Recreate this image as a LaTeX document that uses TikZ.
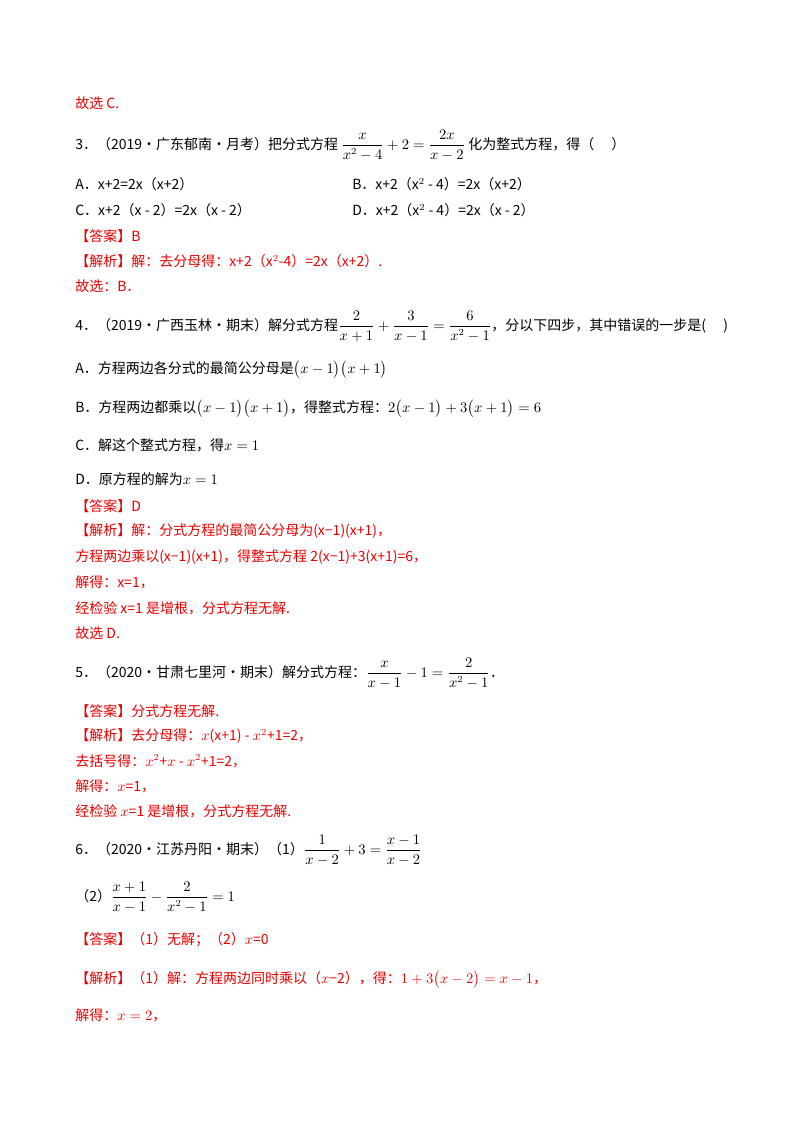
\documentclass[tikz,border=0pt]{standalone}
\usepackage{amsmath}
\usepackage{fontspec}
\setmainfont{Noto Sans CJK SC}
\definecolor{ans}{RGB}{230,0,0}
\begin{document}
\begin{tikzpicture}[x=0.75pt,y=-0.75pt,
  t/.style={anchor=west,inner sep=0pt,font=\fontsize{10.5}{12}\selectfont},
  r/.style={t,text=ans}]
\useasboundingbox (0,0) rectangle (800,1132);
\node[r] (l1) at (75,103) {故选 C.};
\node[t] (l2) at (75,145) {3．（2019·广东郁南·月考）把分式方程 $\displaystyle\frac{x}{x^2-4}+2=\frac{2x}{x-2}$ 化为整式方程，得（\quad\ ）};
\node[t] (l3a) at (75,184) {A．x+2=2x（x+2）};
\node[t] (l3b) at (352,184) {B．x+2（x$^2$ - 4）=2x（x+2）};
\node[t] (l4a) at (75,210) {C．x+2（x - 2）=2x（x - 2）};
\node[t] (l4b) at (352,210) {D．x+2（x$^2$ - 4）=2x（x - 2）};
\node[r] (l5) at (75,236) {【答案】B};
\node[r] (l6) at (75,261) {【解析】解：去分母得：x+2（x$^2$-4）=2x（x+2）.};
\node[r] (l7) at (75,286) {故选：B．};
\node[t] (l8) at (75,326) {4．（2019·广西玉林·期末）解分式方程$\displaystyle\frac{2}{x+1}+\frac{3}{x-1}=\frac{6}{x^2-1}$，分以下四步，其中错误的一步是(\quad\ )};
\node[t] (l9) at (75,370) {A．方程两边各分式的最简公分母是$\big(x-1\big)\big(x+1\big)$};
\node[t] (l10) at (75,409) {B．方程两边都乘以$\big(x-1\big)\big(x+1\big)$，得整式方程：$2\big(x-1\big)+3\big(x+1\big)=6$};
\node[t] (l11) at (75,445) {C．解这个整式方程，得$x=1$};
\node[t] (l12) at (75,479) {D．原方程的解为$x=1$};
\node[r] (l13) at (75,506) {【答案】D};
\node[r] (l14) at (75,531) {【解析】解：分式方程的最简公分母为(x−1)(x+1)，};
\node[r] (l15) at (75,557) {方程两边乘以(x−1)(x+1)，得整式方程 2(x−1)+3(x+1)=6，};
\node[r] (l16) at (75,582) {解得：x=1，};
\node[r] (l17) at (75,608) {经检验 x=1 是增根，分式方程无解.};
\node[r] (l18) at (75,633) {故选 D.};
\node[t] (l19) at (75,673) {5．（2020·甘肃七里河·期末）解分式方程：$\displaystyle\frac{x}{x-1}-1=\frac{2}{x^2-1}$．};
\node[r] (l20) at (75,711) {【答案】分式方程无解.};
\node[r] (l21) at (75,736) {【解析】去分母得：$x$(x+1) - $x^2$+1=2，};
\node[r] (l22) at (75,761) {去括号得：$x^2$+$x$ - $x^2$+1=2，};
\node[r] (l23) at (75,786) {解得：$x$=1，};
\node[r] (l24) at (75,811) {经检验 $x$=1 是增根，分式方程无解.};
\node[t] (l25) at (75,850) {6．（2020·江苏丹阳·期末）（1）$\displaystyle\frac{1}{x-2}+3=\frac{x-1}{x-2}$};
\node[t] (l26) at (75,897) {（2）$\displaystyle\frac{x+1}{x-1}-\frac{2}{x^2-1}=1$};
\node[r] (l27) at (75,940) {【答案】（1）无解；（2）$x$=0};
\node[r] (l28) at (75,980) {【解析】（1）解：方程两边同时乘以（$x$−2），得：$1+3\big(x-2\big)=x-1$，};
\node[r] (l29) at (75,1015) {解得：$x=2$，};
\end{tikzpicture}
\end{document}
